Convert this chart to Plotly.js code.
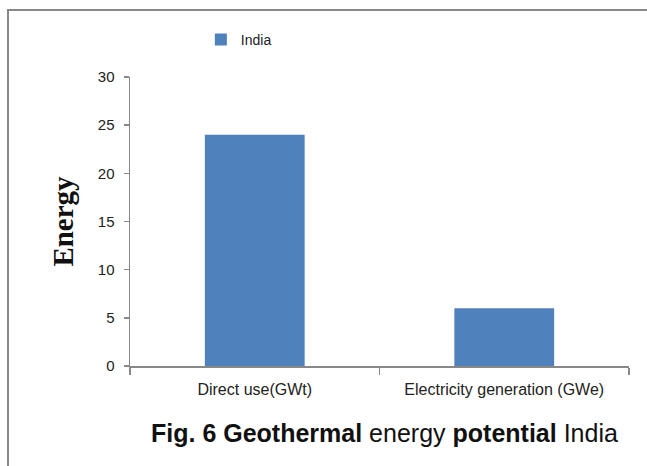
<!DOCTYPE html>
<html>
<head>
<meta charset="utf-8">
<script src="https://cdn.plot.ly/plotly-3.0.1.min.js"></script>
<style>
  html, body { margin: 0; padding: 0; background: #ffffff; }
  #frame { position: absolute; left: 7px; top: 9px; width: 640px; height: 457px;
           border-top: 2px solid #888888; border-left: 2px solid #888888; box-sizing: border-box; }
  #chart { width: 638px; height: 455px; }
</style>
</head>
<body>
<div id="frame"><div id="chart"></div></div>
<script>
const categories = ["Direct use(GWt)", "Electricity generation (GWe)"];
const seriesName = "India";
const indiaValues = [24, 6];
const yTickValues = [0, 5, 10, 15, 20, 25, 30];
const yTitle = "Energy";
const figCaption = "<b>Fig. 6 Geothermal</b> energy <b>potential</b> India";

const trace = {
  type: "bar",
  x: categories,
  y: indiaValues,
  name: seriesName,
  marker: { color: "#4F81BD" },
  showlegend: true,
  hoverinfo: "x+y"
};

const layout = {
  width: 638,
  height: 455,
  margin: { l: 121, r: 18, t: 66, b: 100 },
  paper_bgcolor: "#ffffff",
  plot_bgcolor: "#ffffff",
  bargap: 0.6,
  showlegend: true,
  legend: {
    orientation: "h",
    x: 0.142, xanchor: "left",
    y: 1.128, yanchor: "middle",
    font: { family: "Liberation Sans, Arial, sans-serif", size: 14, color: "#222222" },
    bgcolor: "rgba(0,0,0,0)"
  },
  xaxis: {
    type: "category",
    range: [-0.5, 1.5],
    showline: true, linecolor: "#888888", linewidth: 1.5,
    ticks: "outside", tickson: "boundaries", ticklen: 7, tickcolor: "#888888", tickwidth: 1.5,
    showgrid: false, zeroline: false,
    ticklabelstandoff: 8,
    tickfont: { family: "Liberation Sans, Arial, sans-serif", size: 16, color: "#222222" }
  },
  yaxis: {
    range: [0, 30],
    tickvals: yTickValues,
    showline: true, linecolor: "#888888", linewidth: 1.5,
    ticks: "outside", ticklen: 5, tickcolor: "#888888", tickwidth: 1.5,
    showgrid: false, zeroline: false,
    ticklabelstandoff: 6,
    tickfont: { family: "Liberation Sans, Arial, sans-serif", size: 15, color: "#222222" },
    title: {
      text: "<b>" + yTitle + "</b>",
      standoff: 15,
      font: { family: "Liberation Serif, Times New Roman, serif", size: 29, color: "#111111" }
    }
  },
  annotations: [{
    xref: "paper", yref: "paper",
    x: 0.511, y: -0.232, xanchor: "center", yanchor: "middle",
    text: figCaption,
    showarrow: false,
    font: { family: "Liberation Sans, Arial, sans-serif", size: 25, color: "#111111" }
  }]
};

Plotly.newPlot("chart", [trace], layout, { displayModeBar: false, staticPlot: true });
</script>
</body>
</html>
